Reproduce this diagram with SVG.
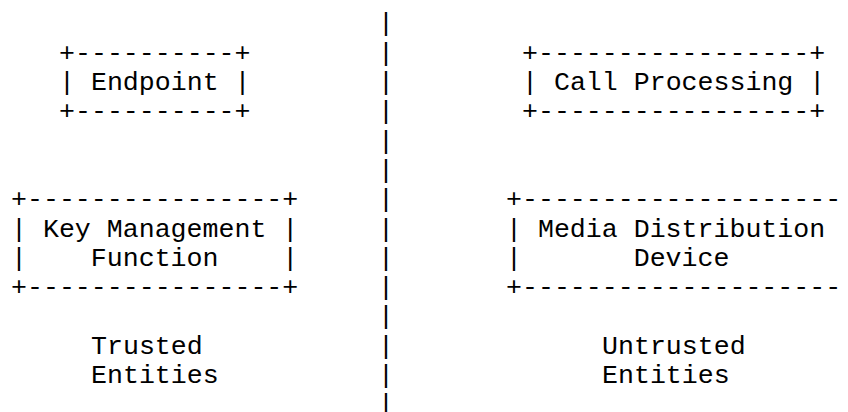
<svg xmlns="http://www.w3.org/2000/svg" width="848" height="412" viewBox="0 0 848 412" xml:space="preserve">
<style>
text { font-family: "Liberation Mono", "Courier New", monospace; font-size: 26.6px; fill: #000; white-space: pre; }
</style>
<rect width="848" height="412" fill="#fff"/>
<g id="connectors">
  <g id="divider">
    <text x="378" y="31.4">|</text>
    <text x="378" y="60.7">|</text>
    <text x="378" y="90">|</text>
    <text x="378" y="119.3">|</text>
    <text x="378" y="148.6">|</text>
    <text x="378" y="177.9">|</text>
    <text x="378" y="207.2">|</text>
    <text x="378" y="236.5">|</text>
    <text x="378" y="265.8">|</text>
    <text x="378" y="295.1">|</text>
    <text x="378" y="324.4">|</text>
    <text x="378" y="353.7">|</text>
    <text x="378" y="383">|</text>
    <text x="378" y="412.3">|</text>
  </g>
</g>
<g id="endpoint">
  <text x="59" y="60.7">+----------+</text>
  <text x="59" y="90">| Endpoint |</text>
  <text x="59" y="119.3">+----------+</text>
</g>
<g id="call-processing">
  <text x="522" y="60.7">+-----------------+</text>
  <text x="522" y="90">| Call Processing |</text>
  <text x="522" y="119.3">+-----------------+</text>
</g>
<g id="key-management">
  <text x="11" y="207.2">+----------------+</text>
  <text x="11" y="236.5">| Key Management |</text>
  <text x="11" y="265.8">|    Function    |</text>
  <text x="11" y="295.1">+----------------+</text>
</g>
<g id="media-distribution">
  <text x="506" y="207.2">+--------------------</text>
  <text x="506" y="236.5">| Media Distribution</text>
  <text x="506" y="265.8">|       Device</text>
  <text x="506" y="295.1">+--------------------</text>
</g>
<g id="trusted">
  <text x="91" y="353.7">Trusted</text>
  <text x="91" y="383">Entities</text>
</g>
<g id="untrusted">
  <text x="602" y="353.7">Untrusted</text>
  <text x="602" y="383">Entities</text>
</g>
</svg>
